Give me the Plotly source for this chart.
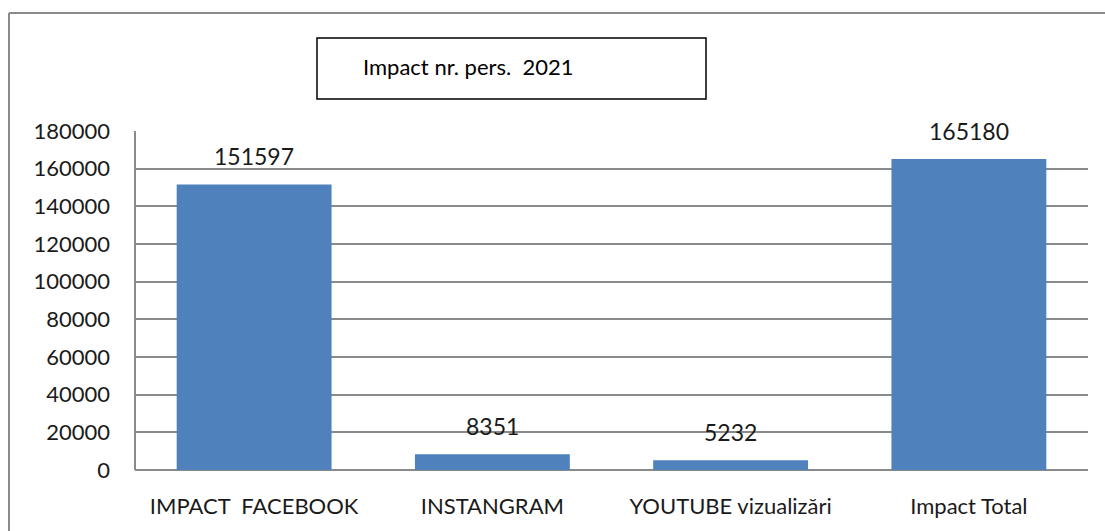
import plotly.graph_objects as go

categories = ["IMPACT  FACEBOOK", "INSTANGRAM", "YOUTUBE vizualizări", "Impact Total"]
values = [151597, 8351, 5232, 165180]
y_ticks = [0, 20000, 40000, 60000, 80000, 100000, 120000, 140000, 160000, 180000]
title_text = "Impact nr. pers.  2021"

W, H = 1105, 531
ML, MR, MT, MB = 135, 17, 131, 61
PW = W - ML - MR
PH = H - MT - MB


def px(x):
    # page pixel x -> paper coordinate
    return (x - ML) / PW


def py(y):
    # page pixel y -> paper coordinate
    return (H - MB - y) / PH


FONT = "Lato, 'Open Sans', sans-serif"

fig = go.Figure(
    go.Bar(
        x=categories,
        y=values,
        marker=dict(color="#4F81BD", line=dict(width=0)),
        width=0.65,
    )
)

annotations = [
    dict(
        x=c, y=v, xref="x", yref="y", text=str(v), showarrow=False,
        yanchor="bottom", yshift=12,
        font=dict(family=FONT, size=23, color="#1a1a1a"),
    )
    for c, v in zip(categories, values)
]
annotations.append(
    dict(
        x=px(361), y=py(66), xref="paper", yref="paper", text=title_text,
        showarrow=False, xanchor="left", yanchor="middle",
        font=dict(family=FONT, size=22, color="#000000"),
    )
)

BORDER = dict(color="#8a8a8a", width=2)
shapes = [
    # outer chart border: top edge and left edge (others are off-page)
    dict(type="line", xref="paper", yref="paper",
         x0=px(9), x1=px(1130), y0=py(13), y1=py(13), line=BORDER, layer="below"),
    dict(type="line", xref="paper", yref="paper",
         x0=px(9), x1=px(9), y0=py(13), y1=py(560), line=BORDER, layer="below"),
    # title box
    dict(type="rect", xref="paper", yref="paper",
         x0=px(317), x1=px(706), y0=py(99), y1=py(38),
         line=dict(color="#000000", width=1.5), fillcolor="white"),
    # left axis line
    dict(type="line", xref="paper", yref="paper",
         x0=0, x1=0, y0=0, y1=1, line=BORDER),
]

fig.update_layout(
    width=W, height=H,
    margin=dict(l=ML, r=MR, t=MT, b=MB, pad=0),
    paper_bgcolor="white", plot_bgcolor="white",
    showlegend=False,
    bargap=0.35,
    annotations=annotations,
    shapes=shapes,
    font=dict(family=FONT, size=22, color="#1a1a1a"),
)
fig.update_xaxes(
    showgrid=False, showline=False, zeroline=False,
    tickfont=dict(family=FONT, size=22, color="#1a1a1a"),
    ticklabelstandoff=21,
)
fig.update_yaxes(
    range=[0, 180000], tickvals=y_ticks, ticktext=[str(t) for t in y_ticks],
    showgrid=True, gridcolor="#8a8a8a", gridwidth=2,
    zeroline=True, zerolinecolor="#8a8a8a", zerolinewidth=2,
    showline=False,
    tickfont=dict(family=FONT, size=22, color="#1a1a1a"),
    ticklabelstandoff=24,
)

fig.write_html(
    "out.html",
    config={"displayModeBar": False},
    post_script="document.body.style.margin='0';document.body.style.overflow='hidden';",
)
